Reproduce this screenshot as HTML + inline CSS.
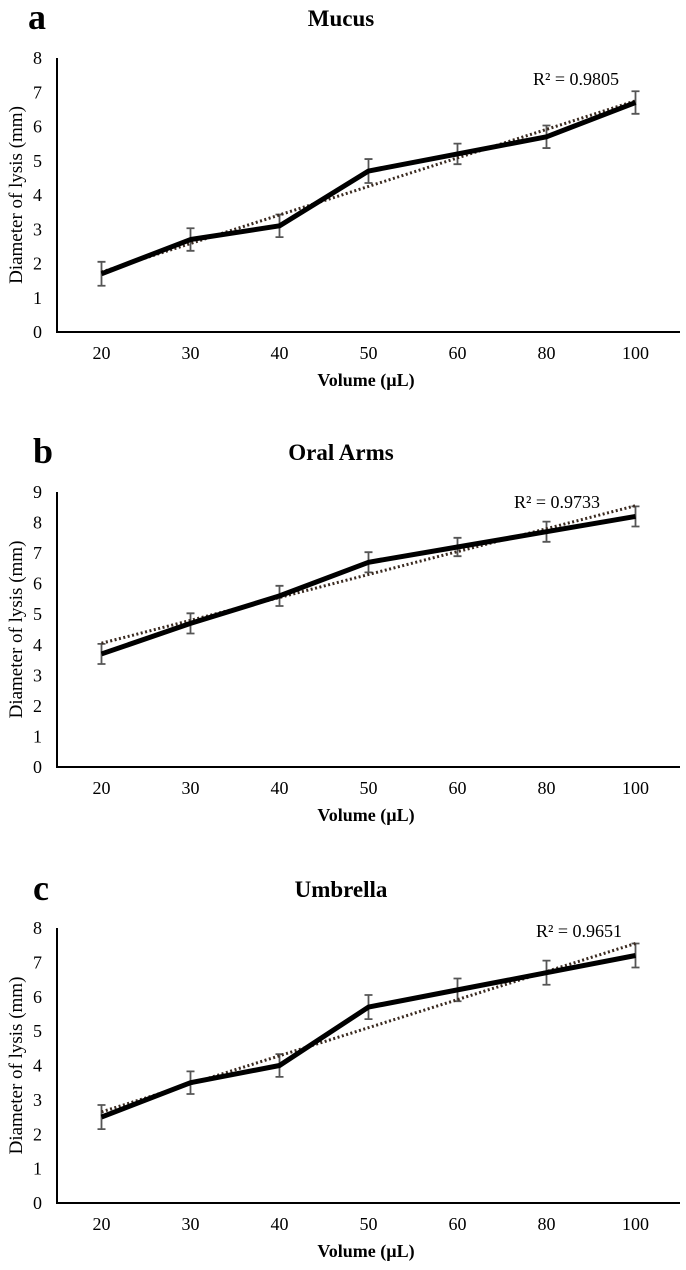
<!DOCTYPE html>
<html><head><meta charset="utf-8">
<style>
html,body{margin:0;padding:0;background:#fff;}
svg{display:block;font-family:"Liberation Serif",serif;}
</style></head>
<body>
<svg id="fig" width="686" height="1270" viewBox="0 0 686 1270"></svg>
<script>
const categories = ["20","30","40","50","60","80","100"];
const mucusValues = [1.7,2.7,3.1,4.7,5.2,5.7,6.7];
const mucusErr = [0.35,0.33,0.33,0.35,0.3,0.33,0.33];
const mucusTrend = [1.75,6.75];
const oralValues = [3.7,4.7,5.6,6.7,7.2,7.7,8.2];
const oralErr = [0.33,0.33,0.33,0.33,0.3,0.33,0.33];
const oralTrend = [4.05,8.55];
const umbrellaValues = [2.5,3.5,4.0,5.7,6.2,6.7,7.2];
const umbrellaErr = [0.35,0.33,0.33,0.35,0.33,0.35,0.35];
const umbrellaTrend = [2.65,7.55];
const mucusTicks = [0,1,2,3,4,5,6,7,8];
const oralTicks = [0,1,2,3,4,5,6,7,8,9];
const umbrellaTicks = [0,1,2,3,4,5,6,7,8];

const NS="http://www.w3.org/2000/svg";
const svg=document.getElementById('fig');
function mk(tag,attrs,parent){const e=document.createElementNS(NS,tag);for(const k in attrs)e.setAttribute(k,attrs[k]);(parent||svg).appendChild(e);return e;}

function panel(o){
  const g=mk('g',{});
  
  
  const x0=57,x1=680;
  const band=(x1-x0)/categories.length;
  const xs=i=>x0+band*(i+0.5);
  const ymax=o.ticks[o.ticks.length-1];
  const ys=v=>o.y0-(o.y0-o.yTop)*v/ymax;
  let t=mk('text',{x:o.lx,y:o.titleY+11,'font-size':36,'font-weight':'bold'},g);t.textContent=o.letter;
  
  t=mk('text',{x:341,y:o.titleY+8,'font-size':23,'font-weight':'bold','text-anchor':'middle'},g);t.textContent=o.title;
  
  let a=mk('path',{d:`M${x0} ${o.yTop} V${o.y0} H${x1}`,stroke:'#000','stroke-width':2,fill:'none'},g);
  
  o.ticks.forEach(v=>{const tt=mk('text',{x:42,y:ys(v)+6,'font-size':18,'text-anchor':'end'},g);tt.textContent=v;
    });
  categories.forEach((c,i)=>{const tt=mk('text',{x:xs(i),y:o.y0+27,'font-size':18,'text-anchor':'middle'},g);tt.textContent=c;
    });
  t=mk('text',{x:366,y:o.y0+54,'font-size':18,'font-weight':'bold','text-anchor':'middle'},g);t.textContent='Volume (µL)';
  
  const cy=(o.y0+o.yTop)/2;
  t=mk('text',{x:0,y:0,'font-size':19,'text-anchor':'middle',transform:`translate(22 ${cy}) rotate(-90)`},g);t.textContent='Diameter of lysis (mm)';
  
  o.values.forEach((v,i)=>{const x=xs(i),hi=ys(v+o.err[i]),lo=ys(v-o.err[i]);
    const e=mk('path',{d:`M${x} ${hi}V${lo}M${x-4} ${hi}H${x+4}M${x-4} ${lo}H${x+4}`,stroke:'#555','stroke-width':1.8,fill:'none'},g);
    });
  const tl=mk('line',{x1:xs(0),y1:ys(o.trend[0]),x2:xs(categories.length-1),y2:ys(o.trend[1]),stroke:'#3a2a20','stroke-width':3,'stroke-dasharray':'2 2.5'},g);
  
  const p=mk('polyline',{points:o.values.map((v,i)=>xs(i)+','+ys(v)).join(' '),stroke:'#000','stroke-width':5,fill:'none','stroke-linejoin':'round'},g);
  
  t=mk('text',{x:o.rx,y:o.ry,'font-size':18},g);t.textContent=o.r2;
  
}
panel({id:'mucus',letter:'a',lx:28,title:'Mucus',titleY:18,yTop:58,y0:332,ticks:mucusTicks,values:mucusValues,err:mucusErr,trend:mucusTrend,r2:'R² = 0.9805',rx:533,ry:85});
panel({id:'oral-arms',letter:'b',lx:33,title:'Oral Arms',titleY:452,yTop:492,y0:767,ticks:oralTicks,values:oralValues,err:oralErr,trend:oralTrend,r2:'R² = 0.9733',rx:514,ry:508});
panel({id:'umbrella',letter:'c',lx:33,title:'Umbrella',titleY:889,yTop:928,y0:1203,ticks:umbrellaTicks,values:umbrellaValues,err:umbrellaErr,trend:umbrellaTrend,r2:'R² = 0.9651',rx:536,ry:937});
</script>
</body></html>
